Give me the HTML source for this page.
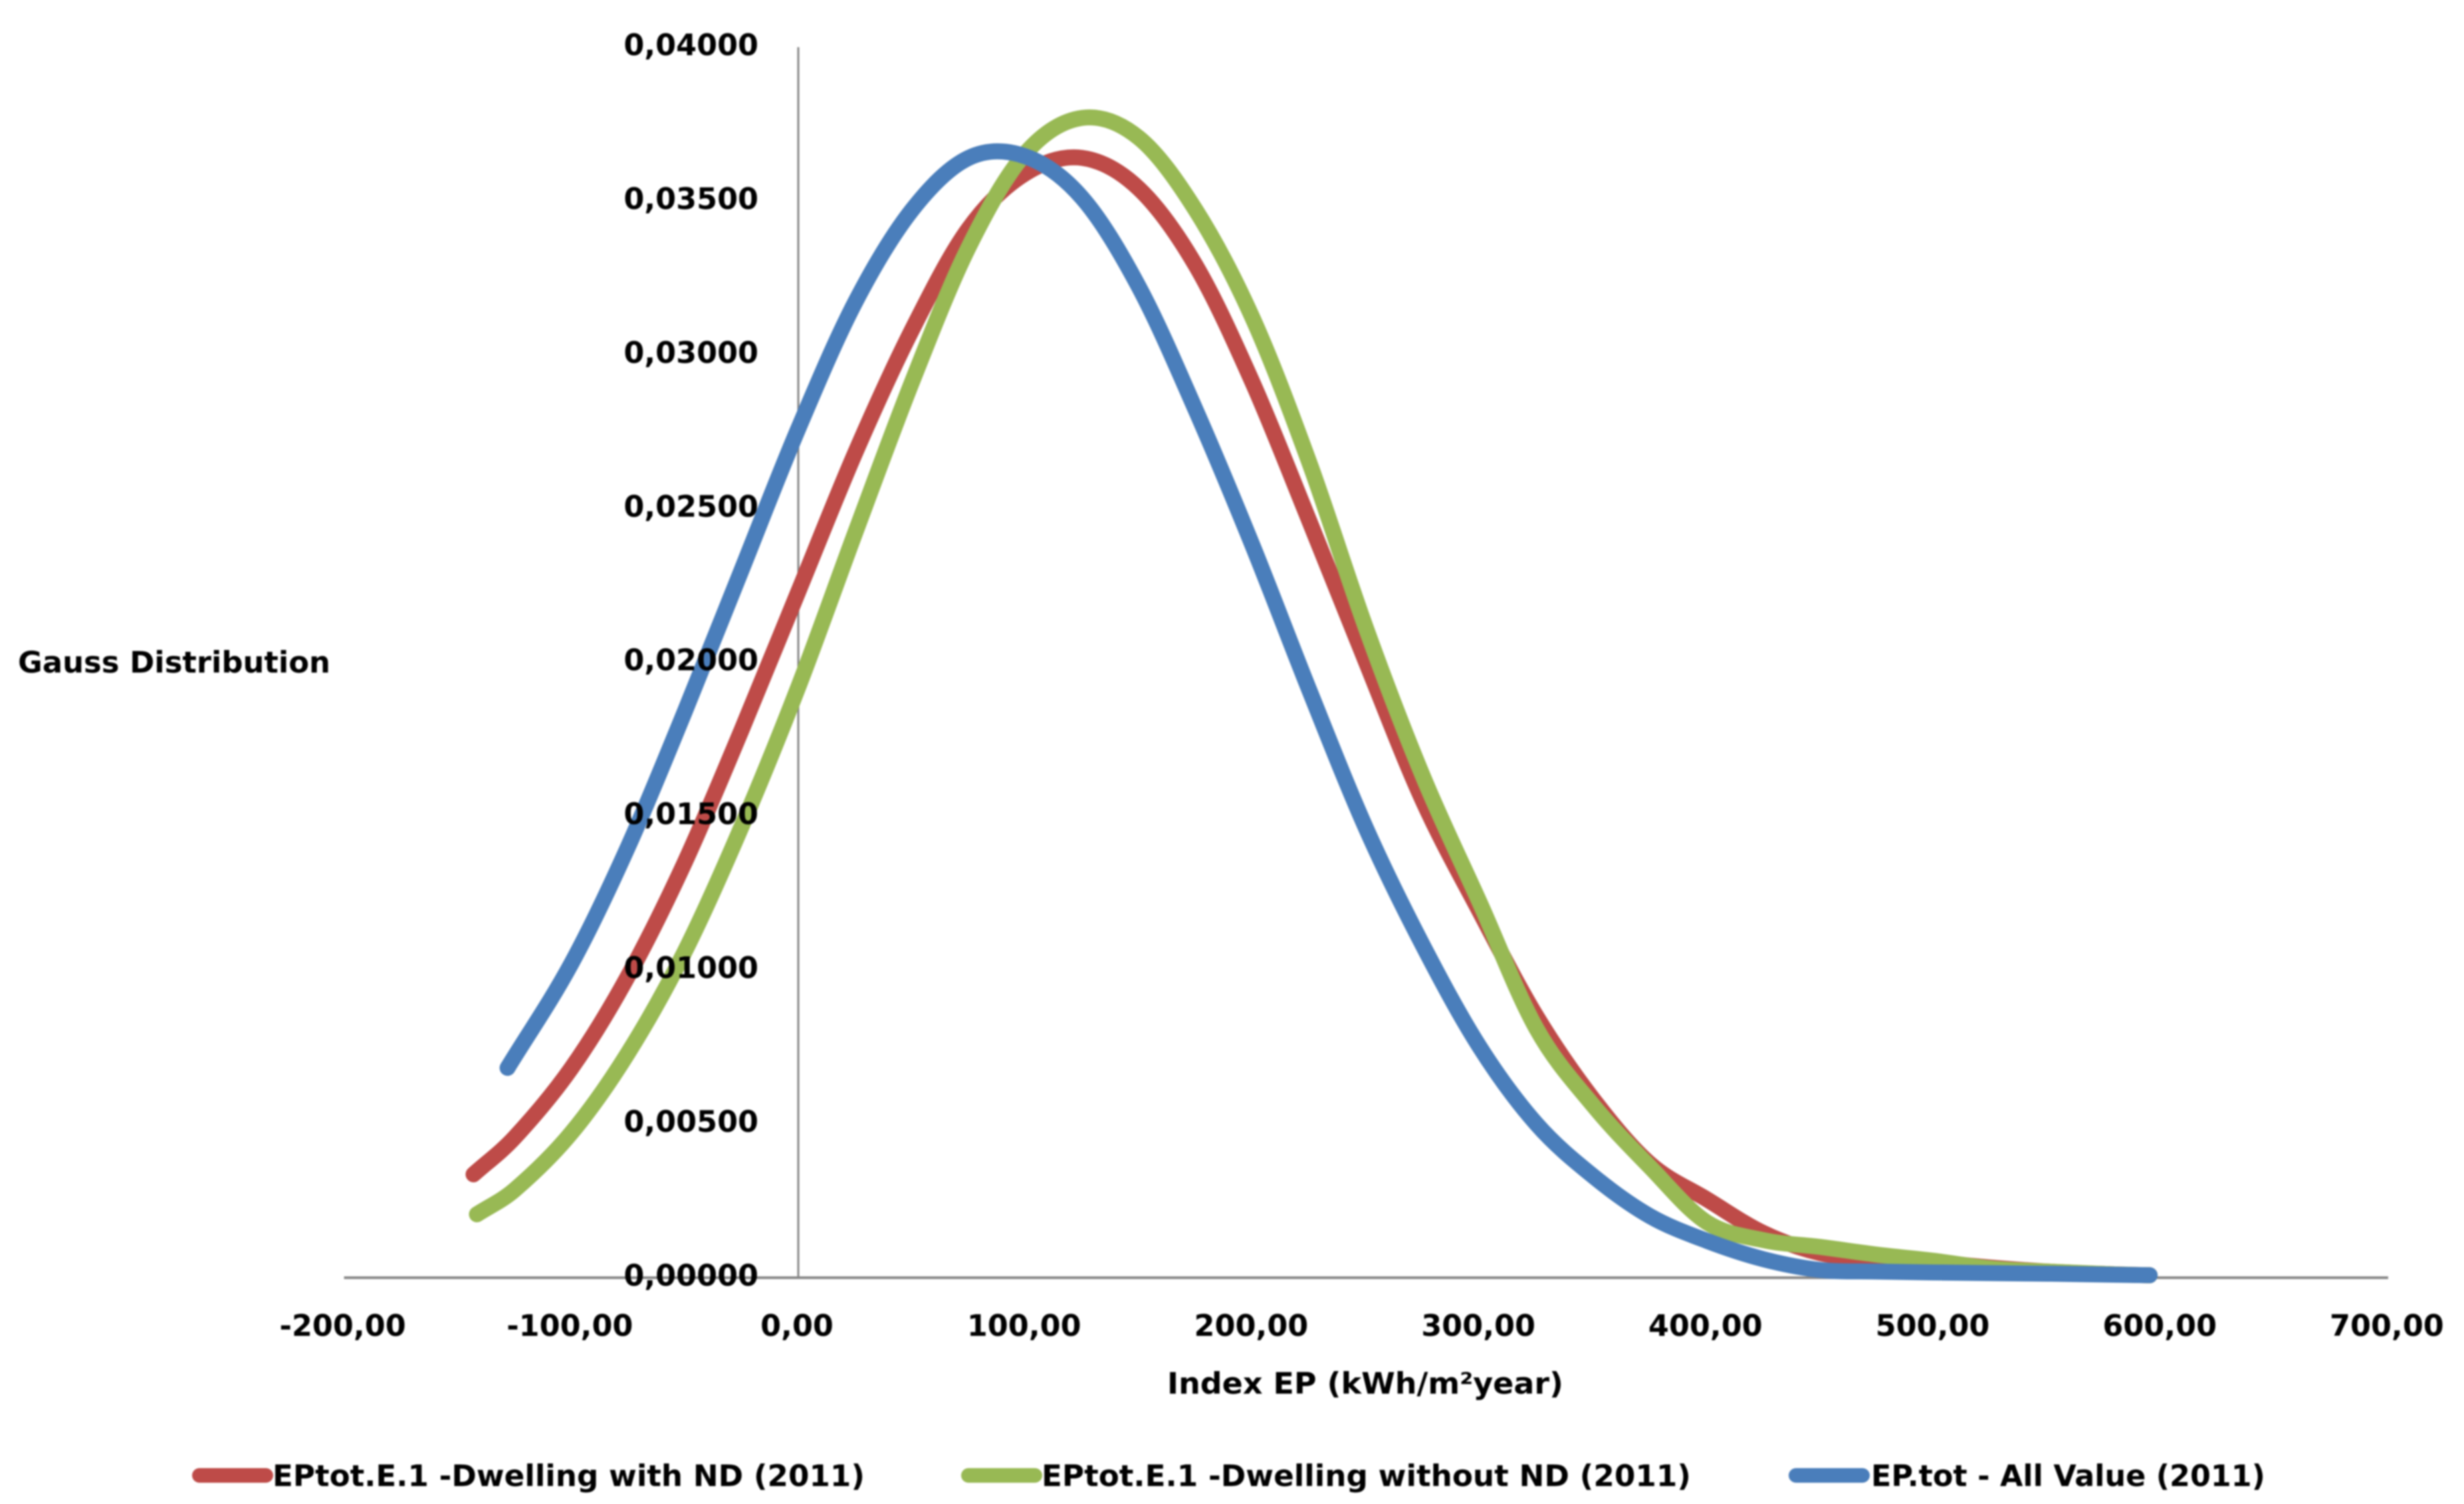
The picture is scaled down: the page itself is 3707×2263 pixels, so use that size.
<!DOCTYPE html>
<html lang="en">
<head>
<meta charset="utf-8">
<title>Gauss Distribution of Index EP</title>
<style>
html,body{margin:0;padding:0;background:#fff;width:3707px;height:2263px;overflow:hidden}
svg{display:block;filter:blur(1.2px)}
text{font-family:"DejaVu Sans","Liberation Sans",sans-serif;font-weight:700;font-size:44.5px;fill:#000}
</style>
</head>
<body>
<svg id="chart" xmlns="http://www.w3.org/2000/svg" width="3707" height="2263" viewBox="0 0 3707 2263">
  <rect x="0" y="0" width="3707" height="2263" fill="#ffffff"/>
  <g id="axes"></g>
  <g id="series"></g>
  <g id="ticks"></g>
  <text x="27" y="1012" textLength="470" lengthAdjust="spacingAndGlyphs">Gauss Distribution</text>
  <text x="1756" y="2097" textLength="596" lengthAdjust="spacingAndGlyphs">Index EP (kWh/m²year)</text>
  <g>
    <line x1="300" y1="2220" x2="400" y2="2220" stroke="#BE4B48" stroke-width="22" stroke-linecap="round"/>
    <text x="410" y="2236" textLength="891" lengthAdjust="spacingAndGlyphs">EPtot.E.1 -Dwelling with ND (2011)</text>
    <line x1="1457" y1="2220" x2="1557" y2="2220" stroke="#98B954" stroke-width="22" stroke-linecap="round"/>
    <text x="1567" y="2236" textLength="977" lengthAdjust="spacingAndGlyphs">EPtot.E.1 -Dwelling without ND (2011)</text>
    <line x1="2702" y1="2220" x2="2802" y2="2220" stroke="#4A7EBB" stroke-width="22" stroke-linecap="round"/>
    <text x="2815" y="2236" textLength="593" lengthAdjust="spacingAndGlyphs">EP.tot - All Value (2011)</text>
  </g>
</svg>
<script>
const xTicks = [-200, -100, 0, 100, 200, 300, 400, 500, 600, 700];
const xTickLabels = ["-200,00", "-100,00", "0,00", "100,00", "200,00", "300,00", "400,00", "500,00", "600,00", "700,00"];
const yTicks = [0, 0.005, 0.01, 0.015, 0.02, 0.025, 0.03, 0.035, 0.04];
const yTickLabels = ["0,00000", "0,00500", "0,01000", "0,01500", "0,02000", "0,02500", "0,03000", "0,03500", "0,04000"];

const redX = [-143,-125,-100,-75,-50,-25,0,25,50,75,100,125,150,175,200,225,250,275,300,325,350,375,400,425,450,475,500,525,550,575,595];
const redY = [.00336,.00455,.00680,.00980,.01350,.01780,.02230,.02680,.03080,.03410,.03590,.03640,.03540,.03290,.02910,.02460,.02000,.01550,.01190,.00850,.00580,.00370,.00255,.00145,.00080,.00060,.00050,.00033,.00020,.00012,.00008];

const greenX = [-141.5,-125,-100,-75,-50,-25,0,25,50,75,100,125,150,175,200,225,250,275,300,325,350,375,400,425,450,475,500,525,550,575,595];
const greenY = [.00206,.00285,.00470,.00730,.01060,.01466,.01920,.02420,.02910,.03350,.03655,.03770,.03705,.03470,.03120,.02650,.02110,.01630,.01220,.00810,.00560,.00360,.00180,.00122,.00100,.00075,.00055,.00030,.00020,.00012,.00008];

const blueX = [-128,-100,-75,-50,-25,0,25,50,75,100,125,150,175,200,225,250,275,300,325,350,375,400,425,450,475,500,550,595];
const blueY = [.00682,.01020,.01400,.01840,.02300,.02760,.03170,.03470,.03640,.03645,.03510,.03220,.02820,.02380,.01910,.01460,.01080,.00750,.00500,.00330,.00200,.00120,.00060,.00025,.00020,.00017,.00013,.00008];

const NS = "http://www.w3.org/2000/svg";
function xScale(v) { return 1201 + v * 3.417; }
function yScale(v) { return 1922.5 - v * 46288; }

function smoothPath(xs, ys) {
  const px = xs.map(xScale);
  const py = ys.map(yScale);
  const n = px.length;
  const m = [];
  for (let i = 0; i < n; i++) {
    const a = Math.max(0, i - 1);
    const b = Math.min(n - 1, i + 1);
    m.push((py[b] - py[a]) / (px[b] - px[a]));
  }
  let d = "M" + px[0].toFixed(1) + " " + py[0].toFixed(1);
  for (let i = 0; i < n - 1; i++) {
    const h = (px[i + 1] - px[i]) / 3;
    d += "C" + (px[i] + h).toFixed(1) + " " + (py[i] + m[i] * h).toFixed(1) + " " +
         (px[i + 1] - h).toFixed(1) + " " + (py[i + 1] - m[i + 1] * h).toFixed(1) + " " +
         px[i + 1].toFixed(1) + " " + py[i + 1].toFixed(1);
  }
  return d;
}

const axesGroup = document.getElementById("axes");
const seriesGroup = document.getElementById("series");
const ticksGroup = document.getElementById("ticks");

const xAxisLine = document.createElementNS(NS, "line");


xAxisLine.setAttribute("x1", xScale(xTicks[0]));
xAxisLine.setAttribute("x2", xScale(xTicks[xTicks.length - 1]));
xAxisLine.setAttribute("y1", yScale(0));
xAxisLine.setAttribute("y2", yScale(0));
xAxisLine.setAttribute("stroke", "#868686");
xAxisLine.setAttribute("stroke-width", "4");
axesGroup.appendChild(xAxisLine);

const yAxisLine = document.createElementNS(NS, "line");


yAxisLine.setAttribute("x1", xScale(0));
yAxisLine.setAttribute("x2", xScale(0));
yAxisLine.setAttribute("y1", yScale(yTicks[yTicks.length - 1]));
yAxisLine.setAttribute("y2", yScale(0));
yAxisLine.setAttribute("stroke", "#868686");
yAxisLine.setAttribute("stroke-width", "3");
axesGroup.appendChild(yAxisLine);

const redLine = document.createElementNS(NS, "path");


redLine.setAttribute("d", smoothPath(redX, redY));
redLine.setAttribute("fill", "none");
redLine.setAttribute("stroke", "#BE4B48");
redLine.setAttribute("stroke-width", "24");
redLine.setAttribute("stroke-linecap", "round");
redLine.setAttribute("stroke-linejoin", "round");
seriesGroup.appendChild(redLine);

const greenLine = document.createElementNS(NS, "path");


greenLine.setAttribute("d", smoothPath(greenX, greenY));
greenLine.setAttribute("fill", "none");
greenLine.setAttribute("stroke", "#98B954");
greenLine.setAttribute("stroke-width", "24");
greenLine.setAttribute("stroke-linecap", "round");
greenLine.setAttribute("stroke-linejoin", "round");
seriesGroup.appendChild(greenLine);

const blueLine = document.createElementNS(NS, "path");


blueLine.setAttribute("d", smoothPath(blueX, blueY));
blueLine.setAttribute("fill", "none");
blueLine.setAttribute("stroke", "#4A7EBB");
blueLine.setAttribute("stroke-width", "24");
blueLine.setAttribute("stroke-linecap", "round");
blueLine.setAttribute("stroke-linejoin", "round");
seriesGroup.appendChild(blueLine);

xTicks.forEach(function (tick, i) {
  const label = document.createElementNS(NS, "text");
  
  
  label.setAttribute("x", xScale(tick) - 2);
  label.setAttribute("y", 2010);
  label.setAttribute("text-anchor", "middle");
  label.textContent = xTickLabels[i];
  ticksGroup.appendChild(label);
});

yTicks.forEach(function (tick, i) {
  const label = document.createElementNS(NS, "text");
  
  
  label.setAttribute("x", 1141);
  label.setAttribute("y", yScale(tick) + 12);
  label.setAttribute("text-anchor", "end");
  label.textContent = yTickLabels[i];
  ticksGroup.appendChild(label);
});
</script>
</body>
</html>
